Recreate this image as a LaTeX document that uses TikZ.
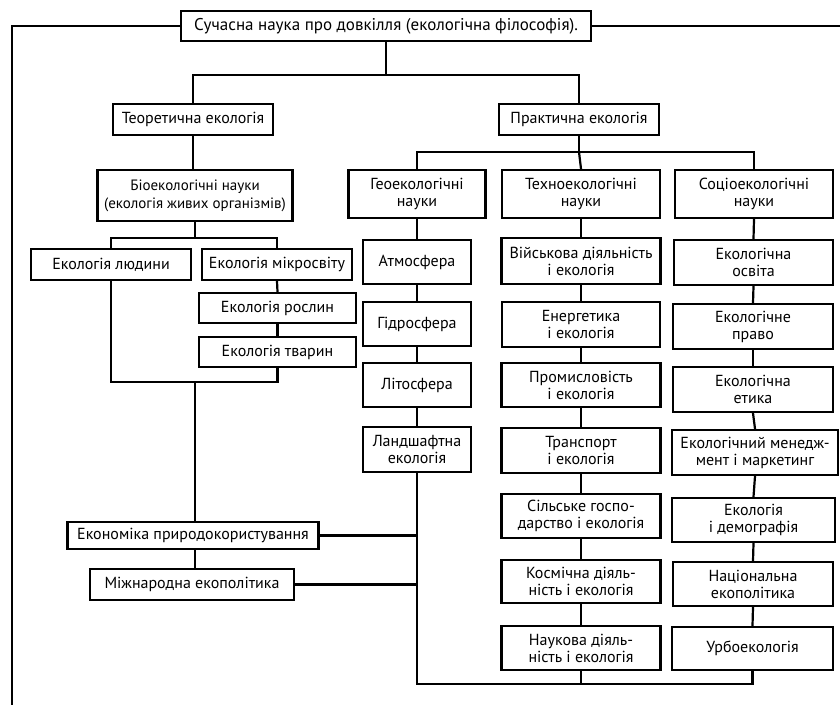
\documentclass[tikz,border=0pt]{standalone}
\usepackage{fontspec}
\setmainfont{PT Sans}
\begin{document}
\begin{tikzpicture}[x=1pt,y=-1pt,
  box/.style={draw=black, line width=2.4pt, align=center, inner sep=0.5pt,
    font=\fontsize{16}{17}\selectfont},
  link/.style={line width=2.2pt, line cap=rect}]
\useasboundingbox[fill=white] (0,0) rectangle (840,704);

% top
\node[box, minimum width=410, minimum height=30, font=\fontsize{17}{18}\selectfont] (title) at (386,26) {Сучасна наука про довкілля (екологічна філософія).};

% first level
\node[box, minimum width=160, minimum height=31] (teor) at (193,119.5) {Теоретична екологія};
\node[box, minimum width=160, minimum height=31] (prakt) at (579,119.5) {Практична екологія};

% theoretical branch
\node[box, minimum width=195, minimum height=51, font=\fontsize{15}{18}\selectfont] (bio) at (195,195.5) {Біоекологічні науки\\(екологія живих організмів)};
\node[box, minimum width=160, minimum height=31] (ludyny) at (111,264.5) {Екологія людини};
\node[box, minimum width=150, minimum height=31] (mikro) at (277,264.5) {Екологія мікросвіту};
\node[box, minimum width=157, minimum height=30] (roslyn) at (277.5,308) {Екологія рослин};
\node[box, minimum width=157, minimum height=30] (tvaryn) at (277.5,352) {Екологія тварин};

\node[box, minimum width=251, minimum height=27] (ekon) at (193,535.5) {Економіка природокористування};
\node[box, minimum width=204, minimum height=31] (mizh) at (192,584.5) {Міжнародна екополітика};

% practical branch: geo
\node[box, minimum width=137, minimum height=48] (geo) at (417,194) {Геоекологічні\\науки};
\node[box, minimum width=108, minimum height=44] (atmos) at (417,262) {Атмосфера};
\node[box, minimum width=108, minimum height=44] (hydro) at (417,324) {Гідросфера};
\node[box, minimum width=108, minimum height=44] (lito) at (417,385) {Літосфера};
\node[box, minimum width=108, minimum height=45] (landsh) at (417,449.5) {Ландшафтна\\екологія};

% practical branch: techno
\node[box, minimum width=158, minimum height=48] (techno) at (581,194) {Техноекологічні\\науки};
\node[box, minimum width=159, minimum height=46] (vijsk) at (581,261) {Військова діяльність\\і екологія};
\node[box, minimum width=158, minimum height=45] (energ) at (581,324.5) {Енергетика\\і екологія};
\node[box, minimum width=159, minimum height=44] (prom) at (581,385) {Промисловість\\і екологія};
\node[box, minimum width=159, minimum height=45] (transp) at (581,450.5) {Транспорт\\і екологія};
\node[box, minimum width=159, minimum height=44] (silske) at (581,516) {Сільське госпо-\\дарство і екологія};
\node[box, minimum width=159, minimum height=43] (kosm) at (581,581.5) {Космічна діяль-\\ність і екологія};
\node[box, minimum width=159, minimum height=44] (nauk) at (581,648) {Наукова діяль-\\ність і екологія};

% practical branch: socio
\node[box, minimum width=158, minimum height=48] (socio) at (754,194) {Соціоекологічні\\науки};
\node[box, minimum width=159, minimum height=45] (osvita) at (753.5,262.5) {Екологічна\\освіта};
\node[box, minimum width=160, minimum height=45] (pravo) at (753,326.5) {Екологічне\\право};
\node[box, minimum width=160, minimum height=45] (etyka) at (753,389.5) {Екологічна\\етика};
\node[box, minimum width=166, minimum height=45] (menedzh) at (755,452.5) {Екологічний менедж-\\мент і маркетинг};
\node[box, minimum width=163, minimum height=44] (demogr) at (753.5,520) {Екологія\\і демографія};
\node[box, minimum width=160, minimum height=44] (nacion) at (753,584) {Національна\\екополітика};
\node[box, minimum width=161, minimum height=43] (urbo) at (752.5,648.5) {Урбоекологія};

% junction points
\coordinate (jtop) at (386,75);
\coordinate (jprakt) at (579,152);
\coordinate (jbio) at (195,238);
\coordinate (jbio2) at (195,382);
\coordinate (jbot) at (417,684);
\coordinate (frameL) at (12,704);
\coordinate (frameR) at (840,26);

% frame around the whole scheme
\draw[link] (title.west) -| (frameL);
\draw[link] (title.east) -- (frameR);

% title to first level
\draw[link] (title.south) -- (jtop);
\draw[link] (teor.north) |- (jtop) -| (prakt.north);

% theoretical ecology
\draw[link] (teor.south) -- (teor.south |- bio.north);
\draw[link] (bio.south) -- (jbio);
\draw[link] (ludyny.north) |- (jbio) -| (mikro.north);
\draw[link] (mikro.south) -- (roslyn.north);
\draw[link] (roslyn.south) -- (tvaryn.north);
\draw[link] (ludyny.south) |- (jbio2);
\draw[link] (tvaryn.south) |- (jbio2);
\draw[link] (jbio2) -- (jbio2 |- ekon.north);
\draw[link] (jbio2 |- ekon.south) -- (jbio2 |- mizh.north);

% practical ecology
\draw[link] (prakt.south) -- (jprakt);
\draw[link] (geo.north) |- (jprakt) -| (socio.north);
\draw[link] (jprakt) -- (techno.north);

\draw[link] (geo.south) -- (atmos.north);
\draw[link] (atmos.south) -- (hydro.north);
\draw[link] (hydro.south) -- (lito.north);
\draw[link] (lito.south) -- (landsh.north);
\draw[link] (landsh.south) -- (jbot);

\draw[link] (techno.south) -- (vijsk.north);
\draw[link] (vijsk.south) -- (energ.north);
\draw[link] (energ.south) -- (prom.north);
\draw[link] (prom.south) -- (transp.north);
\draw[link] (transp.south) -- (silske.north);
\draw[link] (silske.south) -- (kosm.north);
\draw[link] (kosm.south) -- (nauk.north);
\draw[link] (nauk.south) -- (nauk.south |- jbot);

\draw[link] (socio.south) -- (osvita.north);
\draw[link] (osvita.south) -- (pravo.north);
\draw[link] (pravo.south) -- (etyka.north);
\draw[link] (etyka.south) -- (menedzh.north);
\draw[link] (menedzh.south) -- (demogr.north);
\draw[link] (demogr.south) -- (nacion.north);
\draw[link] (nacion.south) -- (urbo.north);
\draw[link] (jbot) -| (urbo.south);

% economics links to the geo line
\draw[link] (ekon.east) -- (ekon.east -| jbot);
\draw[link] (mizh.east) -- (mizh.east -| jbot);
\end{tikzpicture}
\end{document}
